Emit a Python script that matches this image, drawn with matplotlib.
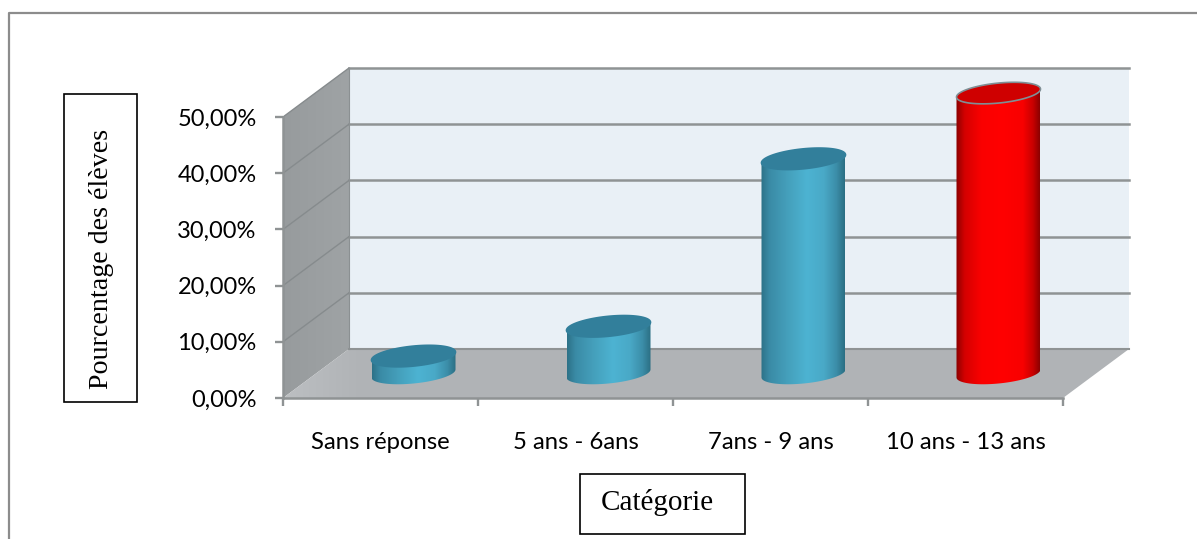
import numpy as np
import matplotlib
matplotlib.use("Agg")
import matplotlib.pyplot as plt
from matplotlib.colors import LinearSegmentedColormap
from matplotlib.patches import Polygon, Rectangle

categories = ["Sans réponse", "5 ans - 6ans", "7ans - 9 ans", "10 ans - 13 ans"]
values = [3.1, 8.4, 38.2, 49.9]
bar_colors = ["blue", "blue", "blue", "red"]
y_ticks = [0, 10, 20, 30, 40, 50]
y_tick_labels = ["0,00%", "10,00%", "20,00%", "30,00%", "40,00%", "50,00%"]

W, H = 1197, 539
fig = plt.figure(figsize=(W / 100, H / 100), dpi=100, facecolor="white")

# full-figure layer for the frame and the text boxes, in pixels
bg = fig.add_axes([0, 0, 1, 1])
bg.set_xlim(0, W)
bg.set_ylim(H, 0)
bg.axis("off")
bg.plot([9, 9, W + 5], [H + 5, 13, 13], color="#8c8c8c", lw=1.6, clip_on=False)

bg.add_patch(Rectangle((63.5, 93.5), 73.5, 308, fc="white", ec="black", lw=1.2))
bg.text(101.5, 259, "Pourcentage des élèves", rotation=90, ha="center", va="center",
        family="Liberation Serif", fontsize=20.2)
bg.add_patch(Rectangle((579.5, 474), 165.5, 60, fc="white", ec="black", lw=1.2))
bg.text(657, 503, "Catégorie", ha="center", va="center", family="Liberation Serif", fontsize=21)

# front plane of the 3D box: x in categories, y in percent
left, right, bottom, top = 283, 1063, 398, 117
ax = fig.add_axes([left / W, 1 - bottom / H, (right - left) / W, (bottom - top) / H])
ax.patch.set_visible(False)
for s in ax.spines.values():
    s.set_visible(False)

n = len(categories)
dx = 66 / 195          # depth shift, in categories
dy = 49 / 5.62         # depth shift, in percent
GRID = "#8f9394"

side_cmap = LinearSegmentedColormap.from_list("side", ["#979b9d", "#9fa3a5"])
floor_cmap = LinearSegmentedColormap.from_list(
    "floor", [(0, "#bcbfc1"), (0.08, "#b1b4b7"), (1, "#b0b3b6")])


def shaded(poly, cmap, extent, zorder):
    # gradient image cut to a polygon, free to leave the axes box
    patch = Polygon(poly, fc="none", ec="none", clip_on=False)
    ax.add_patch(patch)
    im = ax.imshow(np.linspace(0, 1, 128).reshape(1, -1), cmap=cmap, aspect="auto",
                   extent=extent, zorder=zorder)
    im.set_clip_box(fig.bbox)
    im.set_clip_path(patch)


# back wall
ax.add_patch(Polygon([(dx, dy), (n + dx, dy), (n + dx, 50 + dy), (dx, 50 + dy)],
                     fc="#e9f0f6", ec="none", clip_on=False, zorder=1))

# left wall and floor
shaded([(0, 0), (dx, dy), (dx, 50 + dy), (0, 50)], side_cmap, (0, dx, 0, 50 + dy), 1.5)
shaded([(0, 0), (dx, dy), (n + dx, dy), (n, 0)], floor_cmap, (0, n + dx, 0, dy), 1.5)

# grid lines along the back wall and the left wall
for v in y_ticks[1:]:
    ax.plot([dx, n + dx], [v + dy, v + dy], color=GRID, lw=1.8, clip_on=False, zorder=2)
    ax.plot([0, dx], [v, v + dy], color="#868b8d", lw=1.0, clip_on=False, zorder=2)
ax.plot([dx, n + dx], [dy, dy], color=GRID, lw=1.5, clip_on=False, zorder=2)
ax.plot([dx, dx], [dy, 50 + dy], color="#8b9092", lw=0.8, clip_on=False, zorder=2)
ax.plot([0, 0], [0, 50], color=GRID, lw=1.8, clip_on=False, zorder=2.2)
ax.plot([0, n], [0, 0], color=GRID, lw=1.8, clip_on=False, zorder=2.2)

ax.set_xticks(range(n + 1))
ax.set_xticklabels([])
ax.set_yticks(y_ticks)
ax.set_yticklabels(y_tick_labels, family="Lato", fontsize=17, color="black")
ax.tick_params(axis="y", length=6, width=1.7, color=GRID, pad=13)
ax.tick_params(axis="x", length=6, width=1.7, color=GRID)
for i, c in enumerate(categories):
    ax.text(i + 0.5, -7.9, c, ha="center", va="center", family="Lato", fontsize=17.2)

# cylinders, dark only in a thin band at each side
gradients = {
    "blue": [(0, "#2d7288"), (0.1, "#3a8ba6"), (0.3, "#449eba"), (0.55, "#4db3d2"),
             (0.75, "#49a9c7"), (0.9, "#3c8ea9"), (1, "#2b6f84")],
    "red": [(0, "#8c0000"), (0.1, "#d40000"), (0.3, "#fa0000"), (0.55, "#ff0000"),
            (0.8, "#f80000"), (0.92, "#c80000"), (1, "#8c0000")],
}
top_colors = {"blue": "#327f9b", "red": "#cf0000"}
a = 42 / 195        # half width, in categories
b = 10 / 5.62       # half height of the end ellipse, in percent
shear = 4 / 5.62    # right side of the ellipse sits higher
t = np.linspace(0, 2 * np.pi, 121)

for i, (v, col) in enumerate(zip(values, bar_colors)):
    cx = i + 0.5 + dx / 2
    base = dy / 2
    ex = cx + a * np.cos(t)
    ey = b * np.sin(t) + shear * np.cos(t)

    lower = t >= np.pi
    xs = np.concatenate([ex[lower], ex[lower][::-1]])
    ys = np.concatenate([base + ey[lower], base + v + ey[lower][::-1]])
    cmap = LinearSegmentedColormap.from_list("cyl" + col, gradients[col])
    shaded(np.column_stack([xs, ys]), cmap, (cx - a, cx + a, 0, 60), 3)

    top_edge = "#7f8f95" if col == "red" else "#327f9b"
    ax.add_patch(Polygon(np.column_stack([ex, base + v + ey]), fc=top_colors[col],
                         ec=top_edge, lw=1.2, clip_on=False, zorder=4))

ax.set_xlim(0, n)
ax.set_ylim(0, 50)

fig.savefig("out.png", dpi=100)
